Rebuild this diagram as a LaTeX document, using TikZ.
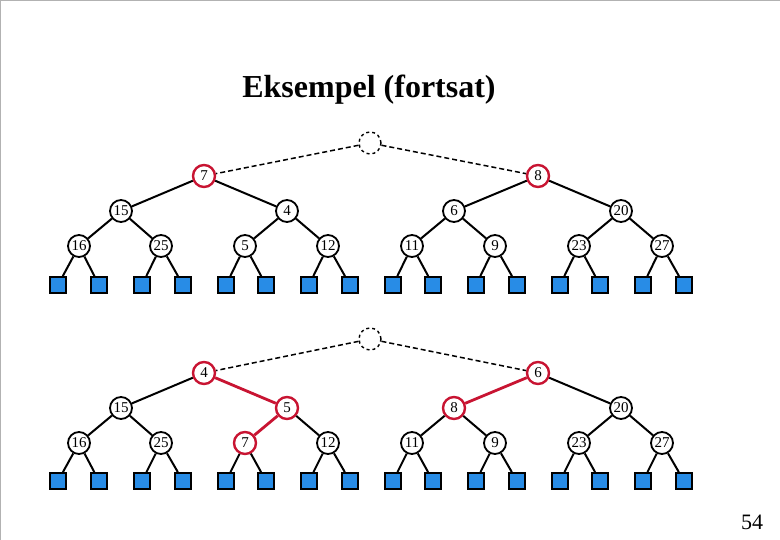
\documentclass[tikz,border=0pt]{standalone}
\usepackage{fontspec}
\setmainfont{Liberation Serif}
\begin{document}
\begin{tikzpicture}[x=1pt,y=-1pt,
  nd/.style={circle,draw,line width=1.8pt,minimum size=22pt,inner sep=0pt,font=\fontsize{15}{15}\selectfont,fill=white},
  rn/.style={nd,draw={rgb,255:red,200;green,20;blue,50},line width=2.4pt},
  dn/.style={nd,dashed,line width=1.4pt},
  lf/.style={rectangle,draw,line width=1.8pt,fill={rgb,255:red,40;green,140;blue,230},minimum size=16pt,inner sep=0pt},
  ed/.style={line width=2pt},
  re/.style={line width=2.8pt,draw={rgb,255:red,200;green,20;blue,50}},
  de/.style={line width=1.5pt,dash pattern=on 5pt off 3pt}]
\useasboundingbox (0,0) rectangle (780,540);
\draw[gray!60,line width=0.8pt] (0,540)--(0,0.4)--(780,0.4);
\node[font=\bfseries\fontsize{32}{32}\selectfont] (title) at (369,90) {Eksempel (fortsat)};
\node[font=\fontsize{22}{22}\selectfont] (pg) at (752,522) {54};
\foreach \t/\dy in {a/0,b/196}{
  \foreach \i/\x in {1/58,2/99,3/142,4/183,5/226,6/266,7/309,8/350,9/393,10/433,11/476,12/517,13/560,14/600,15/643,16/684}
    \node[lf] (\t l\i) at (\x,285+\dy) {};
  \node[dn] (\t r) at (370,143+\dy) {};
}
\node[rn] (a1) at (204,176) {7};
\node[rn] (a2) at (538,176) {8};
\node[nd] (a3) at (121,211) {15};
\node[nd] (a4) at (287,211) {4};
\node[nd] (a5) at (454,211) {6};
\node[nd] (a6) at (621,211) {20};
\foreach \n/\x/\v in {7/79/16,8/161/25,9/245/5,10/328/12,11/412/11,12/495/9,13/579/23,14/662/27}
  \node[nd] (a\n) at (\x,246) {\v};
\node[rn] (b1) at (204,373) {4};
\node[rn] (b2) at (538,373) {6};
\node[nd] (b3) at (121,408) {15};
\node[rn] (b4) at (287,408) {5};
\node[rn] (b5) at (454,408) {8};
\node[nd] (b6) at (621,408) {20};
\node[rn] (b9) at (245,443) {7};
\foreach \n/\x/\v in {7/79/16,8/161/25,10/328/12,11/412/11,12/495/9,13/579/23,14/662/27}
  \node[nd] (b\n) at (\x,443) {\v};
\foreach \t in {a,b}{
  \draw[de] (\t r)--(\t 1); \draw[de] (\t r)--(\t 2);
  \draw[ed] (\t 1)--(\t 3); \draw[ed] (\t 2)--(\t 6);
  \draw[ed] (\t 3)--(\t 7); \draw[ed] (\t 3)--(\t 8);
  \draw[ed] (\t 4)--(\t 10); \draw[ed] (\t 5)--(\t 11); \draw[ed] (\t 5)--(\t 12);
  \draw[ed] (\t 6)--(\t 13); \draw[ed] (\t 6)--(\t 14);
  \foreach \p/\l/\r in {7/1/2,8/3/4,9/5/6,10/7/8,11/9/10,12/11/12,13/13/14,14/15/16}{
    \draw[ed] (\t\p)--(\t l\l); \draw[ed] (\t\p)--(\t l\r);}
}
\draw[ed] (a1)--(a4); \draw[ed] (a4)--(a9); \draw[ed] (a2)--(a5);
\draw[re] (b1)--(b4); \draw[re] (b4)--(b9); \draw[re] (b2)--(b5);
\end{tikzpicture}
\end{document}
